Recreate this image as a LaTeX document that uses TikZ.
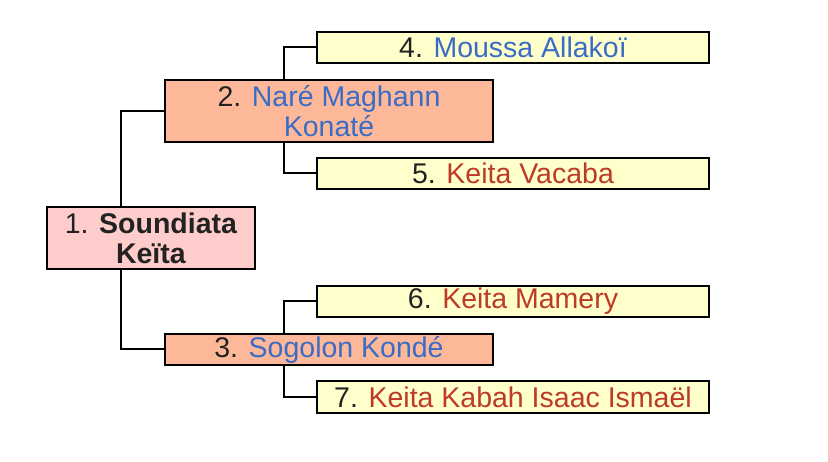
\documentclass[tikz,border=0pt]{standalone}
\usepackage{fontspec}
\setmainfont{Liberation Sans}
\definecolor{txt}{HTML}{222222}
\definecolor{bluename}{HTML}{3A6CC6}
\definecolor{redname}{HTML}{BE3A28}
\definecolor{fillroot}{HTML}{FFCCCC}
\definecolor{fillpar}{HTML}{FCB898}
\definecolor{fillgp}{HTML}{FFFFCC}
\tikzset{
  person/.style={draw=black, line width=2pt, inner sep=0pt, align=center,
    text=txt, font=\fontsize{28.5}{30}\selectfont},
  rootbox/.style={person, fill=fillroot, minimum width=208pt, minimum height=62pt},
  parbox/.style={person, fill=fillpar, minimum width=328pt},
  gpbox/.style={person, fill=fillgp, minimum width=392pt, minimum height=31pt},
  link/.style={draw=black, line width=2pt}
}
\begin{document}
\begin{tikzpicture}[x=1pt,y=-1pt]
\useasboundingbox (0,0) rectangle (828,462);
\node[rootbox] (n1) at (151,238) {1. \textbf{Soundiata}\\\textbf{Keïta}};
\node[parbox, minimum height=62pt] (n2) at (329,111) {2. \textcolor{bluename}{Naré Maghann}\\\textcolor{bluename}{Konaté}};
\node[parbox, minimum height=31pt] (n3) at (329,349.5) {3. \textcolor{bluename}{Sogolon Kondé}};
\node[gpbox] (n4) at (513,47.5) {4. \textcolor{bluename}{Moussa Allakoï}};
\node[gpbox] (n5) at (513,173.5) {5. \textcolor{redname}{Keita Vacaba}};
\node[gpbox] (n6) at (513,301.5) {6. \textcolor{redname}{Keita Mamery}};
\node[gpbox, minimum height=32pt] (n7) at (513,397) {7. \textcolor{redname}{Keita Kabah Isaac Ismaël}};
\draw[link] ([xshift=75pt]n1.north west) |- (n2.west);
\draw[link] ([xshift=75pt]n1.south west) |- (n3.west);
\draw[link] ([xshift=120pt]n2.north west) |- (n4.west);
\draw[link] ([xshift=120pt]n2.south west) |- (n5.west);
\draw[link] ([xshift=120pt]n3.north west) |- (n6.west);
\draw[link] ([xshift=120pt]n3.south west) |- (n7.west);
\end{tikzpicture}
\end{document}
